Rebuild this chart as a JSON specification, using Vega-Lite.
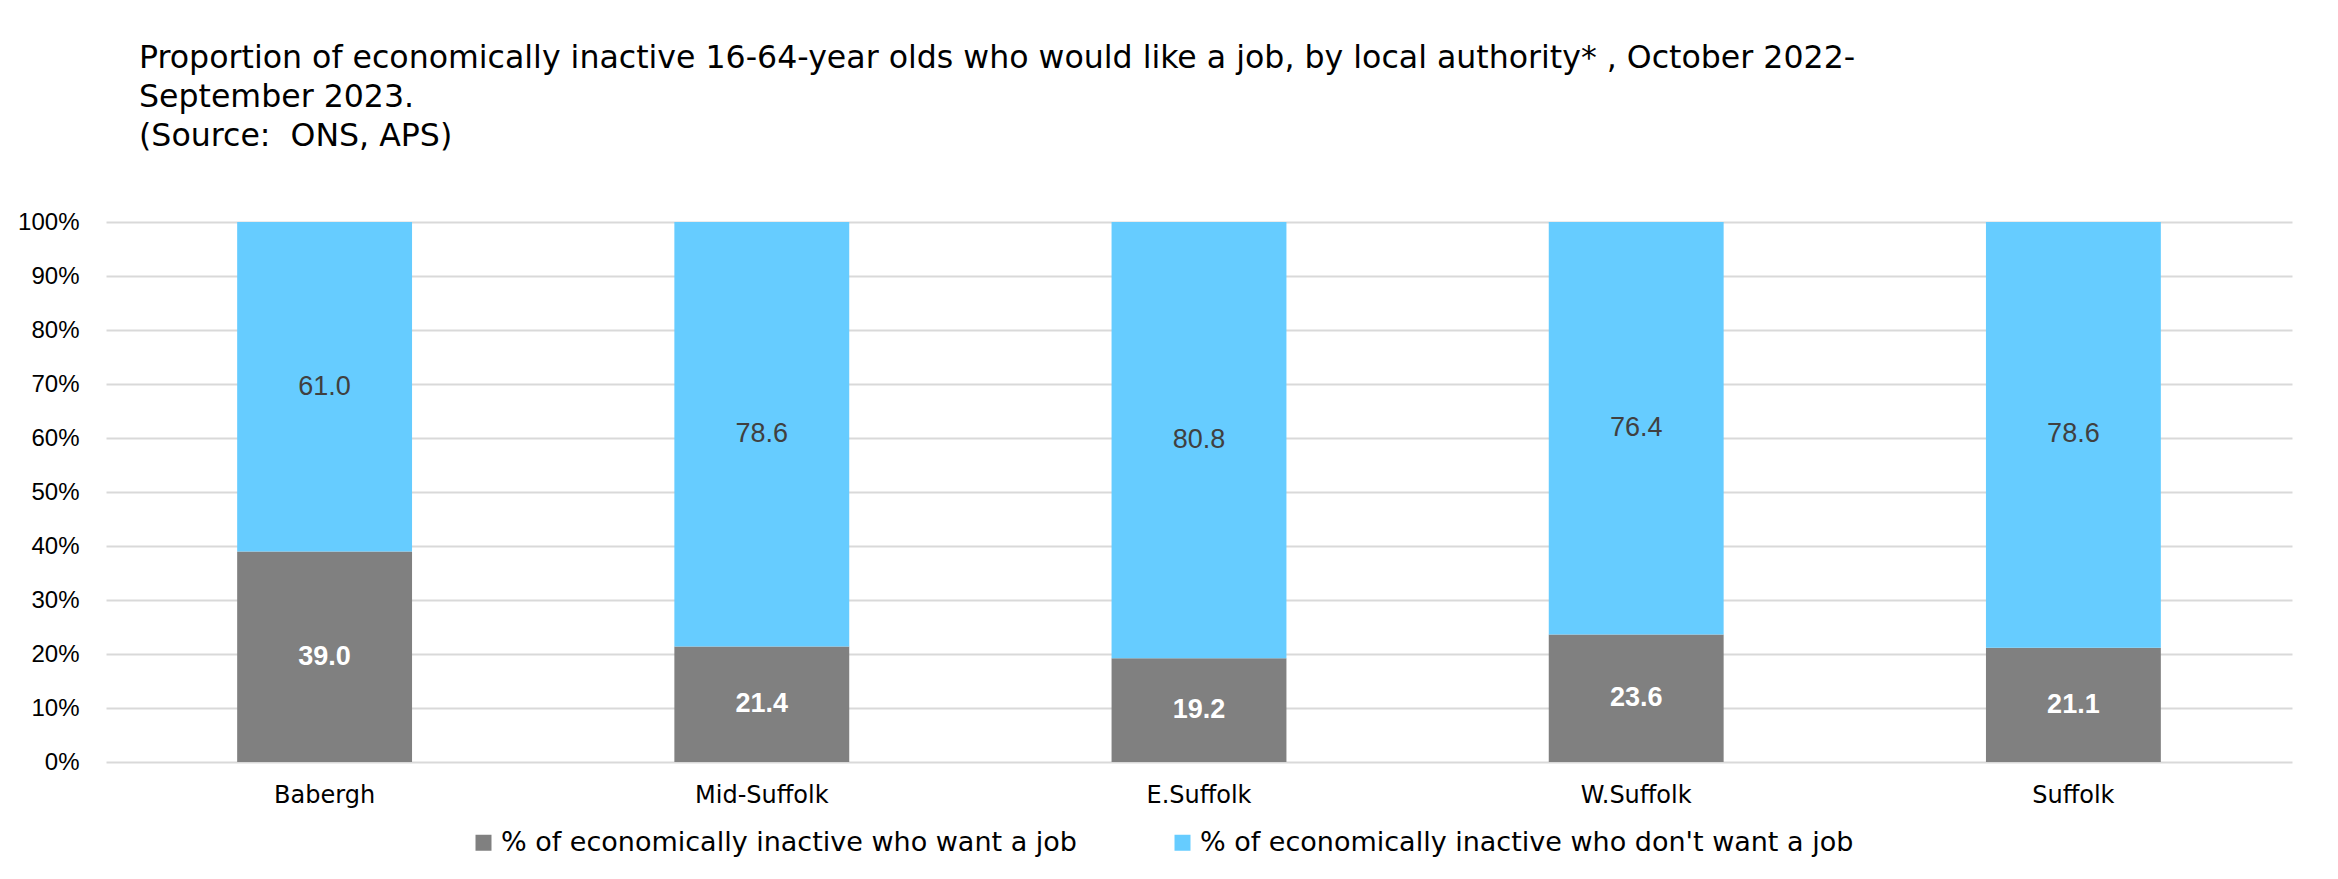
{
  "$schema": "https://vega.github.io/schema/vega-lite/v6.json",
  "width": 2186,
  "height": 540,
  "autosize": {"type": "none"},
  "padding": {"left": 106, "top": 222, "right": 46, "bottom": 117},
  "background": "white",
  "title": {
    "text": ["Proportion of economically inactive 16-64-year olds who would like a job, by local authority* , October 2022-", "September 2023.", "(Source:\u00a0 ONS, APS)"],
    "anchor": "start",
    "frame": "group",
    "dx": 33,
    "font": "DejaVu Sans",
    "fontSize": 31.6,
    "fontWeight": "normal",
    "color": "black",
    "lineHeight": 39,
    "offset": 57
  },
  "data": {
    "values": [
      {"area": "Babergh", "status": "% of economically inactive who want a job", "value": 39.0},
      {"area": "Babergh", "status": "% of economically inactive who don't want a job", "value": 61.0},
      {"area": "Mid-Suffolk", "status": "% of economically inactive who want a job", "value": 21.4},
      {"area": "Mid-Suffolk", "status": "% of economically inactive who don't want a job", "value": 78.6},
      {"area": "E.Suffolk", "status": "% of economically inactive who want a job", "value": 19.2},
      {"area": "E.Suffolk", "status": "% of economically inactive who don't want a job", "value": 80.8},
      {"area": "W.Suffolk", "status": "% of economically inactive who want a job", "value": 23.6},
      {"area": "W.Suffolk", "status": "% of economically inactive who don't want a job", "value": 76.4},
      {"area": "Suffolk", "status": "% of economically inactive who want a job", "value": 21.1},
      {"area": "Suffolk", "status": "% of economically inactive who don't want a job", "value": 78.6}
    ]
  },
  "config": {
    "view": {"stroke": null},
    "axis": {"domain": false, "ticks": false, "title": null}
  },
  "encoding": {
    "x": {
      "field": "area",
      "type": "nominal",
      "sort": null,
      "scale": {"paddingInner": 0.6, "paddingOuter": 0.3},
      "axis": {
        "labelAngle": 0,
        "labelFont": "DejaVu Sans",
        "labelFontSize": 24,
        "labelColor": "black",
        "labelPadding": 21,
        "grid": false
      }
    }
  },
  "layer": [
    {
      "mark": {"type": "bar"},
      "encoding": {
        "y": {
          "field": "value",
          "type": "quantitative",
          "stack": "normalize",
          "scale": {"domain": [0, 1], "nice": false},
          "axis": {
            "format": ".0%",
            "values": [0, 0.1, 0.2, 0.3, 0.4, 0.5, 0.6, 0.7, 0.8, 0.9, 1],
            "labelFont": "Liberation Sans",
            "labelFontSize": 24,
            "labelColor": "black",
            "labelPadding": 27,
            "grid": true,
            "gridColor": "#D9D9D9",
            "gridWidth": 2
          }
        },
        "color": {
          "field": "status",
          "type": "nominal",
          "sort": ["% of economically inactive who want a job", "% of economically inactive who don't want a job"],
          "scale": {
            "domain": ["% of economically inactive who want a job", "% of economically inactive who don't want a job"],
            "range": ["#808080", "#66CCFF"]
          },
          "legend": {
            "title": null,
            "orient": "none",
            "direction": "horizontal",
            "legendX": 364,
            "legendY": 607,
            "symbolType": "square",
            "symbolSize": 256,
            "symbolStrokeWidth": 0,
            "labelFont": "DejaVu Sans",
            "labelFontSize": 27,
            "labelColor": "black",
            "labelOffset": 4,
            "labelLimit": 1000,
            "columnPadding": 92,
            "padding": 0
          }
        },
        "order": {"field": "status", "sort": "descending"}
      }
    },
    {
      "transform": [{"filter": "datum.status === '% of economically inactive who want a job'"}],
      "mark": {"type": "text", "font": "Liberation Sans", "fontSize": 27, "fontWeight": "bold", "color": "white", "baseline": "middle"},
      "encoding": {
        "y": {"field": "value", "type": "quantitative", "scale": {"domain": [0, 200], "nice": false}, "axis": null},
        "text": {"field": "value", "type": "quantitative", "format": ".1f"}
      }
    },
    {
      "transform": [{"filter": "datum.status === \"% of economically inactive who don't want a job\""}],
      "mark": {"type": "text", "font": "Liberation Sans", "fontSize": 27, "color": "#404040", "baseline": "middle"},
      "encoding": {
        "y": {"field": "value", "type": "quantitative", "scale": {"domain": [0, 200], "nice": false, "reverse": true}, "axis": null},
        "text": {"field": "value", "type": "quantitative", "format": ".1f"}
      }
    }
  ],
  "resolve": {"scale": {"y": "independent"}}
}
